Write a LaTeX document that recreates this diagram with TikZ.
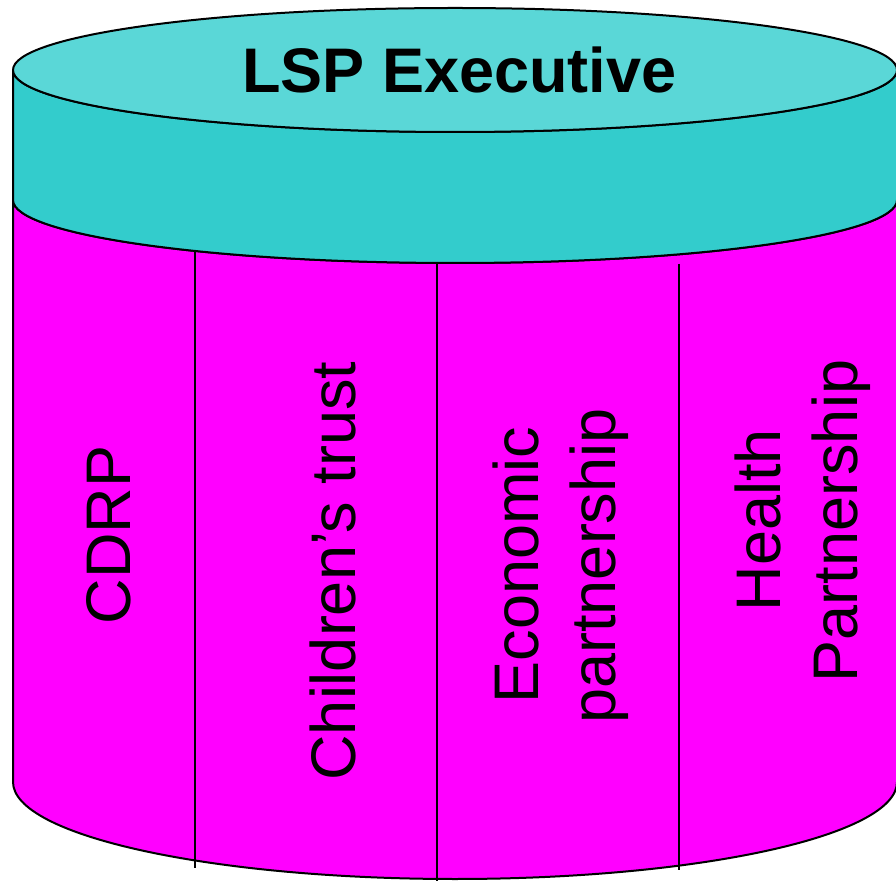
\documentclass[tikz,border=0pt]{standalone}
\usepackage{fontspec}
\setmainfont{Liberation Sans}
\definecolor{topface}{HTML}{5AD7D7}
\definecolor{band}{HTML}{33CCCC}
\definecolor{body}{HTML}{FF00FF}
\begin{document}
\begin{tikzpicture}[x=1pt,y=1pt,
  outline/.style={draw=black,line width=2pt,line join=round},
  divider/.style={draw=black,line width=1.6pt},
  vlabel/.style={inner sep=0pt,anchor=base,rotate=90,font=\fontsize{63}{76}\selectfont},
  title/.style={inner sep=0pt,anchor=base,font=\fontsize{63}{76}\selectfont\bfseries}]
\useasboundingbox (0,0) rectangle (896,881);
\clip (0,0) rectangle (896,881);
% magenta body
\path[outline,fill=body] (13,681) -- (13,99)
  arc[start angle=180,end angle=360,x radius=442,y radius=97]
  -- (897,681)
  arc[start angle=0,end angle=-180,x radius=442,y radius=63] -- cycle;
% cyan band
\path[outline,fill=band] (13,811) -- (13,681)
  arc[start angle=180,end angle=360,x radius=442,y radius=63]
  -- (897,811)
  arc[start angle=0,end angle=-180,x radius=442,y radius=62] -- cycle;
% top face
\path[outline,fill=topface] (455,811) ellipse[x radius=442,y radius=62];
% dividers
\coordinate (d1t) at (195,630); \coordinate (d1b) at (195,13);
\coordinate (d2t) at (437,617); \coordinate (d2b) at (437,0);
\coordinate (d3t) at (679,617); \coordinate (d3b) at (679,11);
\draw[divider] (d1t) -- (d1b);
\draw[divider] (d2t) -- (d2b);
\draw[divider] (d3t) -- (d3b);
% texts
\node[title] (exec) at (459.5,788) {LSP Executive};
\node[vlabel] (cdrp) at (130,346) {CDRP};
\node[vlabel] (child) at (355,310) {Children’s trust};
\node[vlabel] (econ1) at (538,316) {Economic};
\node[vlabel] (econ2) at (615,315) {partnership};
\node[vlabel] (health1) at (780,361) {Health};
\node[vlabel] (health2) at (857,360) {Partnership};
\end{tikzpicture}
\end{document}
